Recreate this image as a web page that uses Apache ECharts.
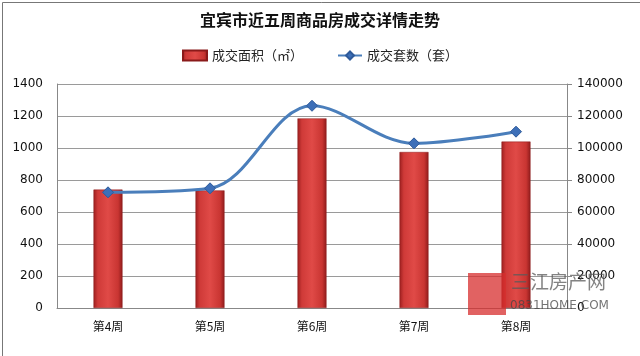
<!DOCTYPE html>
<html><head><meta charset="utf-8">
<script src="https://cdn.jsdelivr.net/npm/echarts@6/dist/echarts.min.js"></script>
<style>html,body{margin:0;padding:0;background:#fff}#c{width:640px;height:356px}</style>
</head><body><div id="c"></div>
<script>
const categories = ['第4周','第5周','第6周','第7周','第8周'];
const areaValues = [740, 735, 1185, 975, 1040];
const countValues = [72300, 74800, 126400, 102900, 110200];
const leftTicks = [0, 1400, 200];
const rightTicks = [0, 140000, 20000];

const chart = echarts.init(document.getElementById('c'));
const barGrad = new echarts.graphic.LinearGradient(0,0,1,0,[
  {offset:0,color:'#9c1f1f'},{offset:0.15,color:'#cf3a38'},{offset:0.5,color:'#e04a47'},
  {offset:0.85,color:'#c93532'},{offset:1,color:'#8e1b1b'}]);
chart.setOption({
  animation:false,
  backgroundColor:'#fff',
  title:{text:'宜宾市近五周商品房成交详情走势',left:'center',top:7,
    textStyle:{fontSize:16,fontWeight:'bold',color:'#111',fontFamily:'Noto Sans CJK SC'}},
  legend:{top:44,left:'center',itemGap:34,itemWidth:24,itemHeight:10,
    textStyle:{fontSize:13,color:'#222',fontFamily:'Noto Sans CJK SC'},
    data:[{name:'成交面积（㎡）',icon:'rect'},{name:'成交套数（套）'}]},
  grid:{left:57,right:73,top:84,bottom:48},
  xAxis:{type:'category',data:categories,
    axisLine:{lineStyle:{color:'#888'}},axisTick:{show:false},
    axisLabel:{color:'#111',fontSize:12,margin:12,fontFamily:'Noto Sans CJK SC'}},
  yAxis:[
    {type:'value',min:leftTicks[0],max:leftTicks[1],interval:leftTicks[2],
     axisLine:{show:true,lineStyle:{color:'#888'}},axisTick:{show:false},
     axisLabel:{color:'#111',fontSize:12,margin:14,fontFamily:'Verdana, DejaVu Sans',formatter:v=>String(v)},
     splitLine:{lineStyle:{color:'#9a9a9a',width:1}}},
    {type:'value',min:rightTicks[0],max:rightTicks[1],interval:rightTicks[2],
     axisLine:{show:true,lineStyle:{color:'#888'}},axisTick:{show:true,length:5,inside:false,lineStyle:{color:'#888'}},
     axisLabel:{color:'#111',fontSize:12,margin:10,fontFamily:'Verdana, DejaVu Sans',formatter:v=>String(v)},
     splitLine:{show:false}}
  ],
  series:[
    {name:'成交面积（㎡）',type:'bar',yAxisIndex:0,data:areaValues,barWidth:29,
     itemStyle:{color:barGrad,borderColor:'#8a1a1a',borderWidth:0.5}},
    {name:'成交套数（套）',type:'line',yAxisIndex:1,data:countValues,smooth:0.35,
     symbol:'diamond',symbolSize:11,
     lineStyle:{color:'#4a7ebb',width:3},
     itemStyle:{color:'#3d6fb8',borderColor:'#2e5a9a',borderWidth:1}}
  ],
  graphic:[
    {type:'rect',left:0,top:0,shape:{width:639,height:355},style:{fill:'none',stroke:'#777',lineWidth:1},silent:true},
    {type:'rect',left:468,top:273,shape:{width:38,height:42},style:{fill:'rgba(215,45,45,0.75)'},z:50},
    {type:'text',left:511,top:272,style:{text:'三江房产网',fontSize:19,fill:'rgba(90,90,90,0.75)',fontFamily:'Noto Sans CJK SC'},z:50},
    {type:'text',left:510,top:300,style:{text:'0831HOME.COM',fontSize:12,fill:'rgba(70,70,70,0.75)',fontFamily:'DejaVu Sans'},z:50}
  ]
});
</script></body></html>
